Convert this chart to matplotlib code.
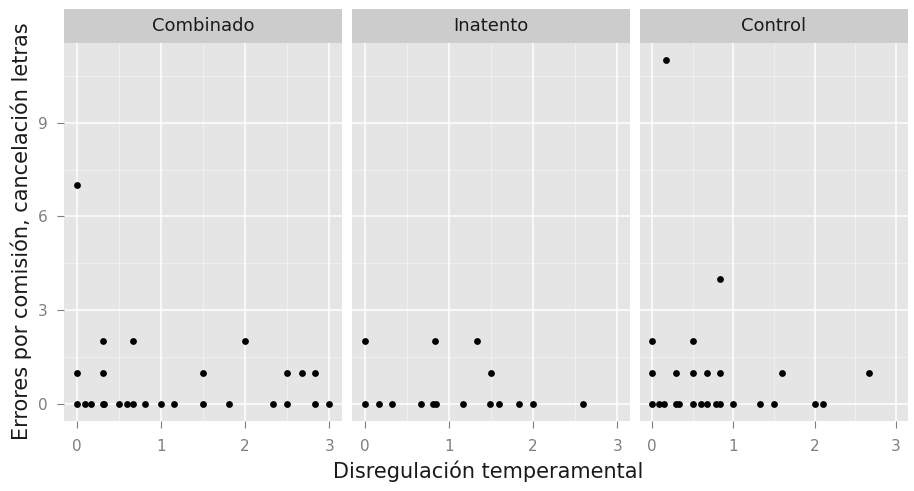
import numpy as np
import matplotlib.pyplot as plt

plt.rcParams["font.family"] = ["DejaVu Sans"]

panels = ["Combinado", "Inatento", "Control"]

# Combinado
comb_x = [0, 0.1, 0.17, 0.31, 0.33, 0.5, 0.6, 0.67, 0.81, 1.0, 1.16, 1.5, 1.81, 2.33, 2.5, 2.83, 3.0,
          0, 0.31, 1.5, 2.5, 2.67, 2.83,
          0.31, 0.67, 2.0,
          0]
comb_y = [0]*17 + [1]*6 + [2]*3 + [7]

# Inatento
inat_x = [0, 0.17, 0.33, 0.67, 0.81, 0.85, 1.17, 1.49, 1.6, 1.83, 2.0, 2.59,
          1.5,
          0, 0.83, 1.33]
inat_y = [0]*12 + [1] + [2]*3

# Control
ctrl_x = [0, 0.09, 0.15, 0.29, 0.33, 0.5, 0.6, 0.67, 0.78, 0.83, 1.0, 1.33, 1.5, 2.0, 2.1,
          0, 0.29, 0.5, 0.67, 0.83, 1.6, 2.67,
          0, 0.5,
          0.83,
          0.17]
ctrl_y = [0]*15 + [1]*7 + [2]*2 + [4] + [11]

data = [(comb_x, comb_y), (inat_x, inat_y), (ctrl_x, ctrl_y)]

W, H = 914, 491
fig = plt.figure(figsize=(W/100, H/100), dpi=100)

lefts = [64, 352, 640]
pw = 278
top, strip_bot, bot = 9, 43, 421

for i, (name, (xs, ys)) in enumerate(zip(panels, data)):
    l = lefts[i]
    w = min(pw, W - 6 - l)
    ax = fig.add_axes([l/W, 1 - bot/H, w/W, (bot - strip_bot)/H])
    ax.set_facecolor("#E5E5E5")
    ax.set_xlim(-0.15, 3.15)
    ax.set_ylim(-0.55, 11.55)
    for v in [0.5, 1.5, 2.5]:
        ax.axvline(v, color="#F2F2F2", lw=0.6, zorder=0)
    for v in [1.5, 4.5, 7.5, 10.5]:
        ax.axhline(v, color="#F2F2F2", lw=0.6, zorder=0)
    for v in [0, 1, 2, 3]:
        ax.axvline(v, color="white", lw=1.1, zorder=0.5)
    for v in [0, 3, 6, 9]:
        ax.axhline(v, color="white", lw=1.1, zorder=0.5)
    ax.scatter(xs, ys, s=24, color="black", zorder=3, linewidths=0)
    ax.set_xticks([0, 1, 2, 3])
    ax.set_yticks([0, 3, 6, 9])
    ax.tick_params(colors="#7F7F7F", labelsize=11, length=5, width=0.8)
    ax.tick_params(axis="x", pad=8)
    ax.tick_params(axis="y", pad=7)
    if i > 0:
        ax.tick_params(axis="y", left=False, labelleft=False)
    for s in ax.spines.values():
        s.set_visible(False)

    sax = fig.add_axes([l/W, 1 - strip_bot/H, w/W, (strip_bot - top)/H])
    sax.set_facecolor("#CCCCCC")
    sax.set_xticks([])
    sax.set_yticks([])
    for s in sax.spines.values():
        s.set_visible(False)
    sax.text(0.5, 0.5, name, ha="center", va="center", fontsize=13,
             color="#1A1A1A", transform=sax.transAxes)

fig.text(488/W, 1 - 471/H, "Disregulación temperamental", ha="center", va="center",
         fontsize=15, color="#1A1A1A")
fig.text(21/W, 1 - 231/H, "Errores por comisión, cancelación letras", ha="center",
         va="center", rotation=90, fontsize=15, color="#1A1A1A")

fig.savefig("out.png", dpi=100)
